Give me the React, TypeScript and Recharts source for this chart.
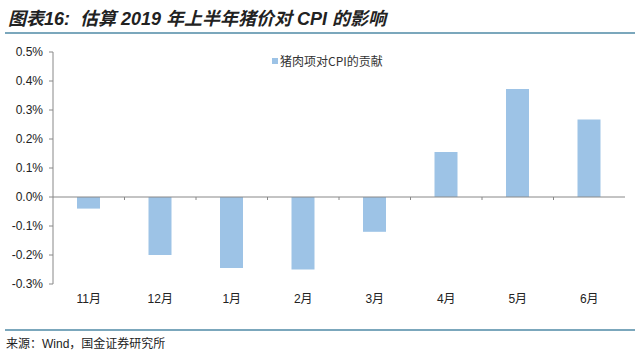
import React from "react";
import { BarChart, Bar, XAxis, YAxis, ReferenceLine } from "recharts";

const months = ["11月", "12月", "1月", "2月", "3月", "4月", "5月", "6月"];
const contribution = [-0.04, -0.2, -0.245, -0.25, -0.12, 0.155, 0.372, 0.267];
const yTicks = [-0.3, -0.2, -0.1, 0, 0.1, 0.2, 0.3, 0.4, 0.5];
const seriesName = "猪肉项对CPI的贡献";
const titleText = "图表16:  估算 2019 年上半年猪价对 CPI 的影响";
const sourceText = "来源：Wind，国金证券研究所";

const data = months.map((m, i) => ({ month: m, value: contribution[i] }));

const ZeroLine = (props: any) => {
  const { x1, y1, x2 } = props;
  const n = months.length;
  const bw = (x2 - x1) / n;
  const ticks = [];
  for (let i = 1; i < n; i++) {
    const x = x1 + bw * i;
    ticks.push(<line key={i} x1={x} y1={y1} x2={x} y2={y1 + 3} stroke="#888" strokeWidth={1} />);
  }
  return (
    <g>
      <line x1={x1} y1={y1} x2={x2} y2={y1} stroke="#888" strokeWidth={1} />
      {ticks}
    </g>
  );
};

export default function App() {
  return (
    <div style={{ position: "absolute", left: 0, top: 0, width: 640, height: 352, background: "#fff", overflow: "hidden" }}>
      <div style={{ position: "absolute", left: 8, top: 4, fontFamily: "'Liberation Sans', 'Noto Sans CJK SC', sans-serif", fontWeight: 700, fontStyle: "italic", fontSize: 18, color: "#222", whiteSpace: "pre" }}>
        {titleText}
      </div>
      <div style={{ position: "absolute", left: 5, top: 32, width: 630, height: 2, background: "#7BA7BC" }} />
      <BarChart width={640} height={352} data={data} margin={{ top: 52, right: 15, bottom: 46, left: 0 }}>
        <XAxis dataKey="month" axisLine={false} tickLine={false} tick={{ fill: "#222", fontSize: 12, fontFamily: "Arial, 'Liberation Sans', 'Noto Sans CJK SC'" }} height={22} tickMargin={4} />
        <YAxis
          domain={[-0.3, 0.5]}
          ticks={yTicks}
          interval={0}
          width={53}
          axisLine={{ stroke: "#888" }}
          tickLine={{ stroke: "#888" }}
          tickSize={4}
          tickMargin={6}
          tickFormatter={(v: number) => `${v.toFixed(1)}%`}
          tick={{ fill: "#222", fontSize: 12, fontFamily: "Arial, 'Liberation Sans'" }}
        />
        <Bar dataKey="value" name={seriesName} fill="#9DC3E6" barSize={23} isAnimationActive={false} />
        <ReferenceLine y={0} shape={ZeroLine} />
      </BarChart>
      <div style={{ position: "absolute", left: 272, top: 52, display: "flex", alignItems: "center", fontFamily: "'Noto Sans CJK SC', serif", fontSize: 12, color: "#333" }}>
        <span style={{ display: "inline-block", width: 6, height: 6, background: "#9DC3E6", marginRight: 2 }} />
        <span>{seriesName}</span>
      </div>
      <div style={{ position: "absolute", left: 5, top: 329, width: 630, height: 2, background: "#7BA7BC" }} />
      <div style={{ position: "absolute", left: 6, top: 334, fontFamily: "'Liberation Sans', 'Noto Sans CJK SC', sans-serif", fontSize: 12, color: "#222" }}>
        {sourceText}
      </div>
    </div>
  );
}
